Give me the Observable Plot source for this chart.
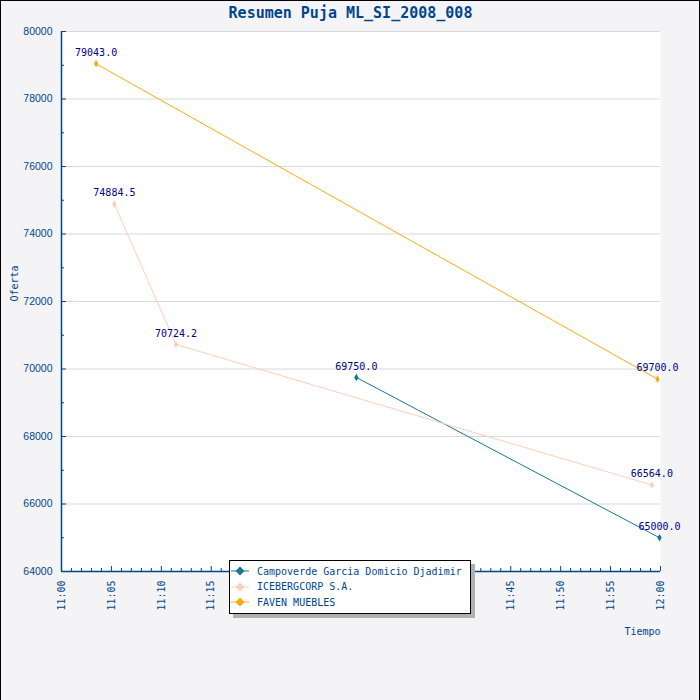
<!DOCTYPE html>
<html>
<head>
<meta charset="utf-8">
<script src="https://cdn.jsdelivr.net/npm/d3@7"></script>
<script src="https://cdn.jsdelivr.net/npm/@observablehq/plot@0.6"></script>
<style>
  html, body { margin: 0; padding: 0; background: #f4f4f6; }
  #wrap { position: relative; width: 700px; height: 700px; overflow: hidden; }
  #border { position: absolute; left: 0; top: 0; width: 698px; height: 710px;
            border-left: 1px solid #000; border-top: 1px solid #000; border-right: 1px solid #000;
            pointer-events: none; }
  #legend { position: absolute; left: 229px; top: 560px; width: 240px; height: 52px;
            background: #fff; border: 1px solid #000; box-shadow: 4px 4px 0 #b0b0b0;
            font-family: "DejaVu Sans Mono", monospace; font-size: 10px; color: #00468c; }
  .row { position: absolute; left: 0; height: 14px; display: flex; align-items: center; }
  .row svg { margin-left: 1px; }
  .row span { margin-left: 8px; white-space: nowrap; }
</style>
</head>
<body>
<div id="wrap"></div>
<script>
// ---- data ----
const series = ["Campoverde Garcia Domicio Djadimir", "ICEBERGCORP S.A.", "FAVEN MUEBLES"];
const colors = ["#137a8e", "#ffcdb9", "#f8ac0b"];
const campoTimes = ["11:29:32", "11:59:54"];
const campoValues = [69750.0, 65000.0];
const icebergTimes = ["11:05:18", "11:11:28", "11:59:08"];
const icebergValues = [74884.5, 70724.2, 66564.0];
const favenTimes = ["11:03:28", "11:59:42"];
const favenValues = [79043.0, 69700.0];
const xTickLabels = ["11:00","11:05","11:10","11:15","11:20","11:25","11:30","11:35","11:40","11:45","11:50","11:55","12:00"];
const yTickLabels = [64000, 66000, 68000, 70000, 72000, 74000, 76000, 78000, 80000];
const titleText = "Resumen Puja ML_SI_2008_008";
const xLabel = "Tiempo";
const yLabel = "Oferta";

// ---- build table ----
const parseT = s => { const [h, m, sec = 0] = s.split(":").map(Number); return new Date(Date.UTC(2008, 0, 1, h, m, sec)); };
const rows = [];
[[campoTimes, campoValues], [icebergTimes, icebergValues], [favenTimes, favenValues]].forEach(([ts, vs], i) => {
  ts.forEach((t, j) => rows.push({series: series[i], time: parseT(t), value: vs[j]}));
});
const xTicks = xTickLabels.map(parseT);
const xMinor = d3.utcMinute.range(xTicks[0], d3.utcMinute.offset(xTicks[xTicks.length - 1], 1));
const yMinor = d3.range(yTickLabels[0], yTickLabels[yTickLabels.length - 1] + 1, 1000);

const W = 700, H = 700, mL = 61, mR = 40, mT = 31, mB = 129;
const fw = W - mL - mR, fh = H - mT - mB;
const axisColor = "#00468c";
const mono = "DejaVu Sans Mono, monospace";

const chart = Plot.plot({
  width: W, height: H,
  marginLeft: mL, marginRight: mR, marginTop: mT, marginBottom: mB,
  style: {background: "#f4f4f6", fontFamily: mono, fontSize: "10px", overflow: "visible"},
  x: {type: "utc", domain: [xTicks[0], xTicks[xTicks.length - 1]]},
  y: {domain: [yTickLabels[0], yTickLabels[yTickLabels.length - 1]]},
  color: {domain: series, range: colors},
  marks: [
    Plot.frame({fill: "#fff", stroke: null}),
    Plot.gridY(yTickLabels.slice(1), {stroke: "#d9d9d9", strokeOpacity: 1}),
    Plot.tickY(yMinor.filter(d => d % 2000 !== 0), {y: d => d, stroke: axisColor, insetRight: fw - 3}),
    Plot.tickY(yTickLabels, {y: d => d, stroke: axisColor, insetRight: fw - 5}),
    Plot.tickX(xMinor.filter(d => d.getUTCMinutes() % 5 !== 0), {x: d => d, stroke: axisColor, insetTop: fh - 3}),
    Plot.tickX(xTicks, {x: d => d, stroke: axisColor, insetTop: fh - 5}),
    Plot.axisY({ticks: yTickLabels, tickSize: 0, tickPadding: 9, tickFormat: d => String(d),
      fill: axisColor, fontFamily: "Liberation Sans, Arial, sans-serif", fontSize: 10.5, label: null}),
    Plot.axisX({ticks: xTicks, tickSize: 0, tickPadding: 9, tickRotate: -90,
      tickFormat: d3.utcFormat("%H:%M"), fill: axisColor, fontFamily: mono, fontSize: 10, label: null}),
    Plot.ruleX([xTicks[0]], {stroke: axisColor, strokeWidth: 1.5}),
    Plot.ruleY([yTickLabels[0]], {stroke: axisColor, strokeWidth: 1.5}),
    Plot.line(rows, {x: "time", y: "value", stroke: "series", strokeWidth: 1}),
    Plot.dot(rows, {x: "time", y: "value", fill: "series", symbol: "diamond", r: 2.3, stroke: null}),
    Plot.text(rows, {x: "time", y: "value", text: d => d.value.toFixed(1), dy: -11,
      fill: "#000080", fontFamily: mono, fontSize: 10}),
    Plot.text([titleText], {frameAnchor: "top", lineAnchor: "middle", dx: -10.5, dy: -18, fill: axisColor,
      fontFamily: mono, fontSize: 15, fontWeight: "bold"}),
    Plot.text([xLabel], {frameAnchor: "bottom-right", lineAnchor: "middle", textAnchor: "end", dy: 60, fill: axisColor,
      fontFamily: mono, fontSize: 10}),
    Plot.text([yLabel], {frameAnchor: "left", rotate: -90, dx: -47, fill: axisColor,
      fontFamily: mono, fontSize: 10})
  ]
});

const wrap = document.getElementById("wrap");
wrap.appendChild(chart);

// legend
const legend = document.createElement("div");
legend.id = "legend";
series.forEach((s, i) => {
  const row = document.createElement("div");
  row.className = "row";
  row.style.top = (3 + i * 15.5) + "px";
  row.innerHTML = `<svg width="18" height="12"><line x1="0" y1="6" x2="18" y2="6" stroke="${colors[i]}" stroke-width="1"/>` +
    `<path d="M9,1.5L13.5,6L9,10.5L4.5,6Z" fill="${colors[i]}"/></svg><span>${s}</span>`;
  legend.appendChild(row);
});
wrap.appendChild(legend);
const border = document.createElement("div");
border.id = "border";
wrap.appendChild(border);
</script>
</body>
</html>
